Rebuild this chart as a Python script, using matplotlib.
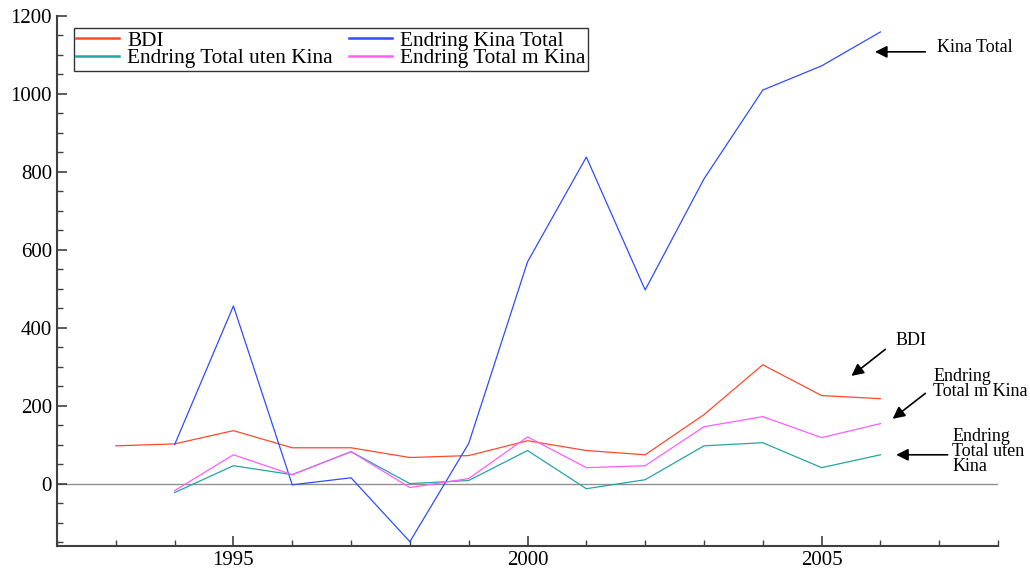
import numpy as np
import matplotlib
matplotlib.use("Agg")
import matplotlib.pyplot as plt
from matplotlib.ticker import MultipleLocator

plt.rcParams['font.family'] = ['Liberation Serif', 'DejaVu Serif']

# ---------------------------------- Data ---------------------------------
years_bdi = [1993, 1994, 1995, 1996, 1997, 1998, 1999, 2000, 2001, 2002, 2003, 2004, 2005, 2006]
bdi       = [97, 102, 136, 92, 92, 67, 72, 110, 85, 74, 177, 305, 226, 218]

years      = [1994, 1995, 1996, 1997, 1998, 1999, 2000, 2001, 2002, 2003, 2004, 2005, 2006]
kina_total = [100, 456, -3, 15, -149, 103, 569, 838, 497, 782, 1010, 1072, 1159]
uten_kina  = [-23, 46, 23, 82, 0, 8, 85, -13, 10, 97, 105, 41, 74]
m_kina     = [-18, 74, 23, 82, -10, 13, 120, 41, 46, 146, 172, 118, 154]

# ---------------------------------- Plot ---------------------------------
fig = plt.figure(figsize=(10.3, 5.71), dpi=100)
ax = fig.add_axes([0.0553, 0.0438, 0.9137, 0.9282])

ax.axhline(0, color='#909090', linewidth=1.0, zorder=1)
l_bdi,  = ax.plot(years_bdi, bdi, color='#ff4a2a', linewidth=0.9, label='BDI')
l_kina, = ax.plot(years, kina_total, color='#2f4dff', linewidth=0.9, label='Endring Kina Total')
l_uten, = ax.plot(years, uten_kina, color='#23a5a5', linewidth=0.9, label='Endring Total uten Kina')
l_m,    = ax.plot(years, m_kina, color='#ff5cff', linewidth=0.9, label='Endring Total m Kina')

ax.set_xlim(1992, 2008)
ax.set_ylim(-160, 1200)
ax.xaxis.set_major_locator(MultipleLocator(5))
ax.xaxis.set_minor_locator(MultipleLocator(1))
ax.yaxis.set_minor_locator(MultipleLocator(50))
ax.set_yticks([0, 200, 400, 600, 800, 1000, 1200])

for s in ['top', 'right']:
    ax.spines[s].set_visible(False)
for s in ['left', 'bottom']:
    ax.spines[s].set_color('#404040')
    ax.spines[s].set_linewidth(1.5)

ax.tick_params(which='both', direction='in', color='#404040', labelsize=15)
ax.tick_params(which='major', length=7, width=1.2)
ax.tick_params(which='minor', length=4, width=1.0)

# row-wise order: BDI, Kina Total / uten Kina, m Kina
leg = ax.legend([l_bdi, l_uten, l_kina, l_m],
                [l_bdi.get_label(), l_uten.get_label(), l_kina.get_label(), l_m.get_label()],
                loc='upper left', ncol=2, fontsize=15.3, frameon=True, fancybox=False,
                edgecolor='black', borderpad=0.12, labelspacing=-0.1, handlelength=2.0,
                handletextpad=0.4, columnspacing=0.75, borderaxespad=0,
                bbox_to_anchor=(0.018, 0.977))
leg.get_frame().set_linewidth(1.0)
for h in leg.get_lines():
    h.set_linewidth(1.8)

arrow = dict(arrowstyle='-|>', color='black', linewidth=1.2, mutation_scale=18)
ax.annotate('', xy=(2005.86, 1108), xytext=(2006.81, 1108), arrowprops=arrow)
ax.text(2006.97, 1118, 'Kina Total', fontsize=13, va='center', ha='left')

ax.annotate('', xy=(2005.47, 272), xytext=(2006.12, 349), arrowprops=arrow)
ax.text(2006.25, 367, 'BDI', fontsize=13, va='center', ha='left')

ax.annotate('', xy=(2006.17, 162), xytext=(2006.80, 236), arrowprops=arrow)
ax.text(2006.9, 256, 'Endring\nTotal m Kina', fontsize=13, va='center', ha='left', linespacing=0.85)

ax.annotate('', xy=(2006.22, 74), xytext=(2007.19, 74), arrowprops=arrow)
ax.text(2007.22, 82, 'Endring\nTotal uten\nKina', fontsize=13, va='center', ha='left', linespacing=0.85)

fig.savefig('out.png', dpi=100)
